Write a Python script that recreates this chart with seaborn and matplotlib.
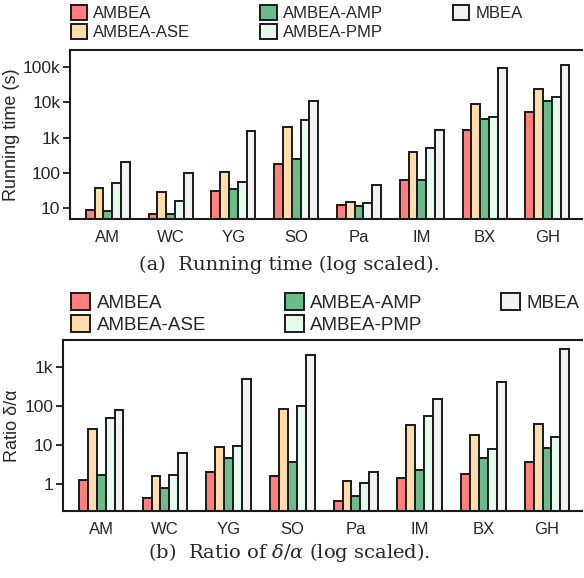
import numpy as np
import pandas as pd
import matplotlib
matplotlib.use("Agg")
import matplotlib.pyplot as plt
import seaborn as sns
from matplotlib.ticker import FixedLocator, NullLocator

datasets = ["AM", "WC", "YG", "SO", "Pa", "IM", "BX", "GH"]
methods = ["AMBEA", "AMBEA-ASE", "AMBEA-AMP", "AMBEA-PMP", "MBEA"]
colors = ["#ff7f7f", "#ffdcab", "#6dbb8a", "#e7fbed", "#f2f2f2"]

# running time in seconds
time_ambea = [8.8, 7.1, 30, 176, 12.4, 62, 1615, 5200]
time_ase = [37, 29, 104, 1960, 14.8, 400, 9200, 23800]
time_amp = [8.4, 6.9, 36, 250, 11.6, 65, 3450, 10900]
time_pmp = [53, 16, 56, 3100, 14.1, 500, 3760, 14200]
time_mbea = [205, 100, 1580, 11000, 45, 1650, 95700, 111000]

# ratio delta / alpha
ratio_ambea = [1.29, 0.42, 1.96, 1.61, 0.36, 1.40, 1.81, 3.55]
ratio_ase = [26, 1.61, 9.0, 84, 1.19, 33, 17.6, 34.6]
ratio_amp = [1.64, 0.77, 4.6, 3.55, 0.49, 2.3, 4.7, 8.5]
ratio_pmp = [48, 1.67, 9.35, 100, 1.04, 57, 8.0, 15.7]
ratio_mbea = [81, 6.1, 500, 2080, 2.04, 156, 419, 2920]


def long_table(series):
    rows = []
    for method, vals in zip(methods, series):
        for ds, v in zip(datasets, vals):
            rows.append({"dataset": ds, "method": method, "value": v})
    return pd.DataFrame(rows)


sns.set_theme(style="white")
plt.rcParams["font.family"] = ["Liberation Sans", "DejaVu Sans"]
plt.rcParams["mathtext.fontset"] = "dejavuserif"

fig = plt.figure(figsize=(5.84, 5.78), dpi=100)
ax1 = fig.add_axes([70 / 584, 1 - 219 / 578, 512 / 584, 169 / 578])
ax2 = fig.add_axes([63 / 584, 1 - 511 / 578, 519 / 584, 171 / 578])


def draw(ax, df, ylim, ticks, labels, ylabel, leg_size, leg_x, leg_y, col_space):
    sns.barplot(data=df, x="dataset", y="value", hue="method", hue_order=methods,
                palette=colors, width=0.7, edgecolor="#1a1a1a", linewidth=1.4,
                saturation=1, ax=ax, errorbar=None)
    ax.set_yscale("log")
    ax.set_ylim(*ylim)
    ax.set_xlim(-0.6, 7.55)
    ax.yaxis.set_major_locator(FixedLocator(ticks))
    ax.yaxis.set_minor_locator(NullLocator())
    ax.set_yticklabels(labels)
    ax.set_xlabel("")
    ax.set_ylabel(ylabel, fontsize=13, labelpad=2)
    ax.tick_params(axis="y", which="major", left=True, length=5, width=1.3,
                   labelsize=12.5, pad=2, color="#1a1a1a")
    ax.tick_params(axis="x", bottom=False, labelsize=12, pad=2)
    for side in ("left", "top", "bottom"):
        ax.spines[side].set_linewidth(1.5)
        ax.spines[side].set_color("#1a1a1a")
    ax.spines["right"].set_visible(False)
    handles, lbls = ax.get_legend_handles_labels()
    ax.legend(handles, lbls, ncol=3, loc="lower left", bbox_to_anchor=(leg_x, leg_y),
              frameon=False, fontsize=leg_size, handlelength=1.0, handleheight=1.0,
              handletextpad=0.35, columnspacing=col_space, labelspacing=0.15,
              borderaxespad=0, borderpad=0)


draw(ax1, long_table([time_ambea, time_ase, time_amp, time_pmp, time_mbea]),
     (5, 3e5), [10, 100, 1e3, 1e4, 1e5], ["10", "100", "1k", "10k", "100k"],
     "Running time (s)", 12, 0.001, 1.06, 4.2)
draw(ax2, long_table([ratio_ambea, ratio_ase, ratio_amp, ratio_pmp, ratio_mbea]),
     (0.2, 5000), [1, 10, 100, 1e3], ["1", "10", "100", "1k"],
     "Ratio δ/α", 13.5, 0.016, 1.037, 4.2)

fig.text(289 / 584, 1 - 265 / 578, "(a)  Running time (log scaled).", ha="center", va="center",
         fontsize=14, family="DejaVu Serif")
fig.text(289 / 584, 1 - 553 / 578, r"(b)  Ratio of $\delta/\alpha$ (log scaled).", ha="center",
         va="center", fontsize=14, family="DejaVu Serif")

fig.savefig("out.png", dpi=100)
